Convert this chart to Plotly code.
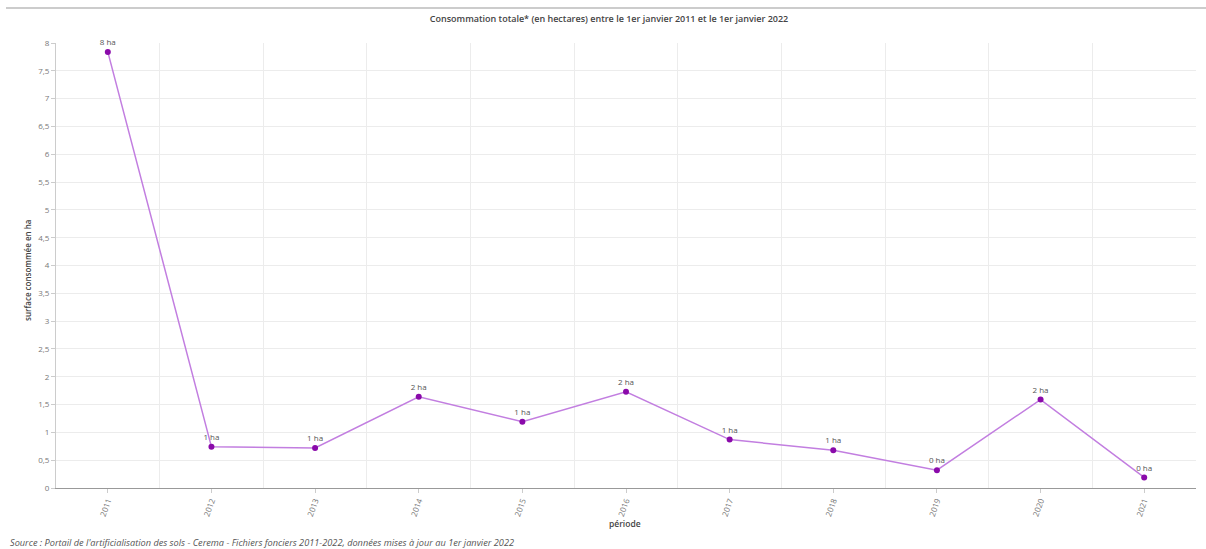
import plotly.graph_objects as go

years = ["2011", "2012", "2013", "2014", "2015", "2016", "2017", "2018", "2019", "2020", "2021"]
values = [7.84, 0.74, 0.72, 1.64, 1.19, 1.73, 0.87, 0.68, 0.32, 1.59, 0.19]
labels = ["8 ha", "1 ha", "1 ha", "2 ha", "1 ha", "2 ha", "1 ha", "1 ha", "0 ha", "2 ha", "0 ha"]

title_text = "Consommation totale* (en hectares) entre le 1er janvier 2011 et le 1er janvier 2022"
y_title = "surface consommée en ha"
x_title = "période"
source = "Source : Portail de l'artificialisation des sols - Cerema - Fichiers fonciers 2011-2022, données mises à jour au 1er janvier 2022"

W, H = 1206, 549
L, R, T, B = 56, 10, 43, 61
pw, ph = W - L - R, H - T - B

xs = list(range(len(years)))

fig = go.Figure()
fig.add_trace(go.Scatter(
    x=xs, y=values, mode="lines+markers+text",
    text=labels, textposition="top center",
    textfont=dict(size=8, color="#555555"),
    line=dict(color="#c27ee0", width=1.5),
    marker=dict(color="#8a0aaa", size=6),
    cliponaxis=False, hoverinfo="y",
))

fig.update_layout(
    width=W, height=H,
    margin=dict(l=L, r=R, t=T, b=B),
    paper_bgcolor="white", plot_bgcolor="white",
    font=dict(family="Open Sans", size=8, color="#666666"),
    separators=", ",
    showlegend=False,
    title=dict(text=title_text, x=0.505, xanchor="center", y=1 - 19 / H, yanchor="middle",
               yref="container", font=dict(size=9, color="#444444", family="Open Sans", weight=600)),
)
fig.update_xaxes(
    range=[-0.5, len(years) - 0.5],
    tickmode="array", tickvals=xs, ticktext=years, tickangle=-70,
    showgrid=False, zeroline=False,
    showline=True, linecolor="#999999", linewidth=1,
    ticks="outside", ticklen=4, tickcolor="#cccccc",
    tickfont=dict(size=8, color="#777777"),
    minor=dict(tickmode="array", tickvals=[i + 0.5 for i in xs[:-1]],
               showgrid=True, gridcolor="#ececec", gridwidth=1),
)
fig.update_yaxes(
    range=[0, 8], dtick=0.5, tick0=0,
    showgrid=True, gridcolor="#ececec", gridwidth=1, zeroline=False,
    showline=True, linecolor="#cccccc", linewidth=1,
    ticks="outside", ticklen=4, tickcolor="#cccccc",
    tickfont=dict(size=8, color="#777777"),
)

fig.add_annotation(text=y_title, xref="paper", yref="paper",
                   x=(27 - L) / pw, y=(H - B - 270) / ph, textangle=-90,
                   showarrow=False, xanchor="center", yanchor="middle",
                   font=dict(size=8, color="#444444", weight=600))
fig.add_annotation(text=x_title, xref="paper", yref="paper",
                   x=(625 - L) / pw, y=-(523 - (H - B)) / ph,
                   showarrow=False, xanchor="center", yanchor="middle",
                   font=dict(size=8.5, color="#444444", weight=600))
fig.add_annotation(text="<i>" + source + "</i>", xref="paper", yref="paper",
                   x=(8 - L) / pw, y=-(542 - (H - B)) / ph,
                   showarrow=False, xanchor="left", yanchor="middle",
                   font=dict(size=9.2, color="#555555"))
fig.add_shape(type="line", xref="paper", yref="paper",
              x0=(6 - L) / pw, x1=(W - L) / pw,
              y0=(H - B - 8) / ph, y1=(H - B - 8) / ph,
              line=dict(color="#cccccc", width=2))

fig.write_html("out.html")
